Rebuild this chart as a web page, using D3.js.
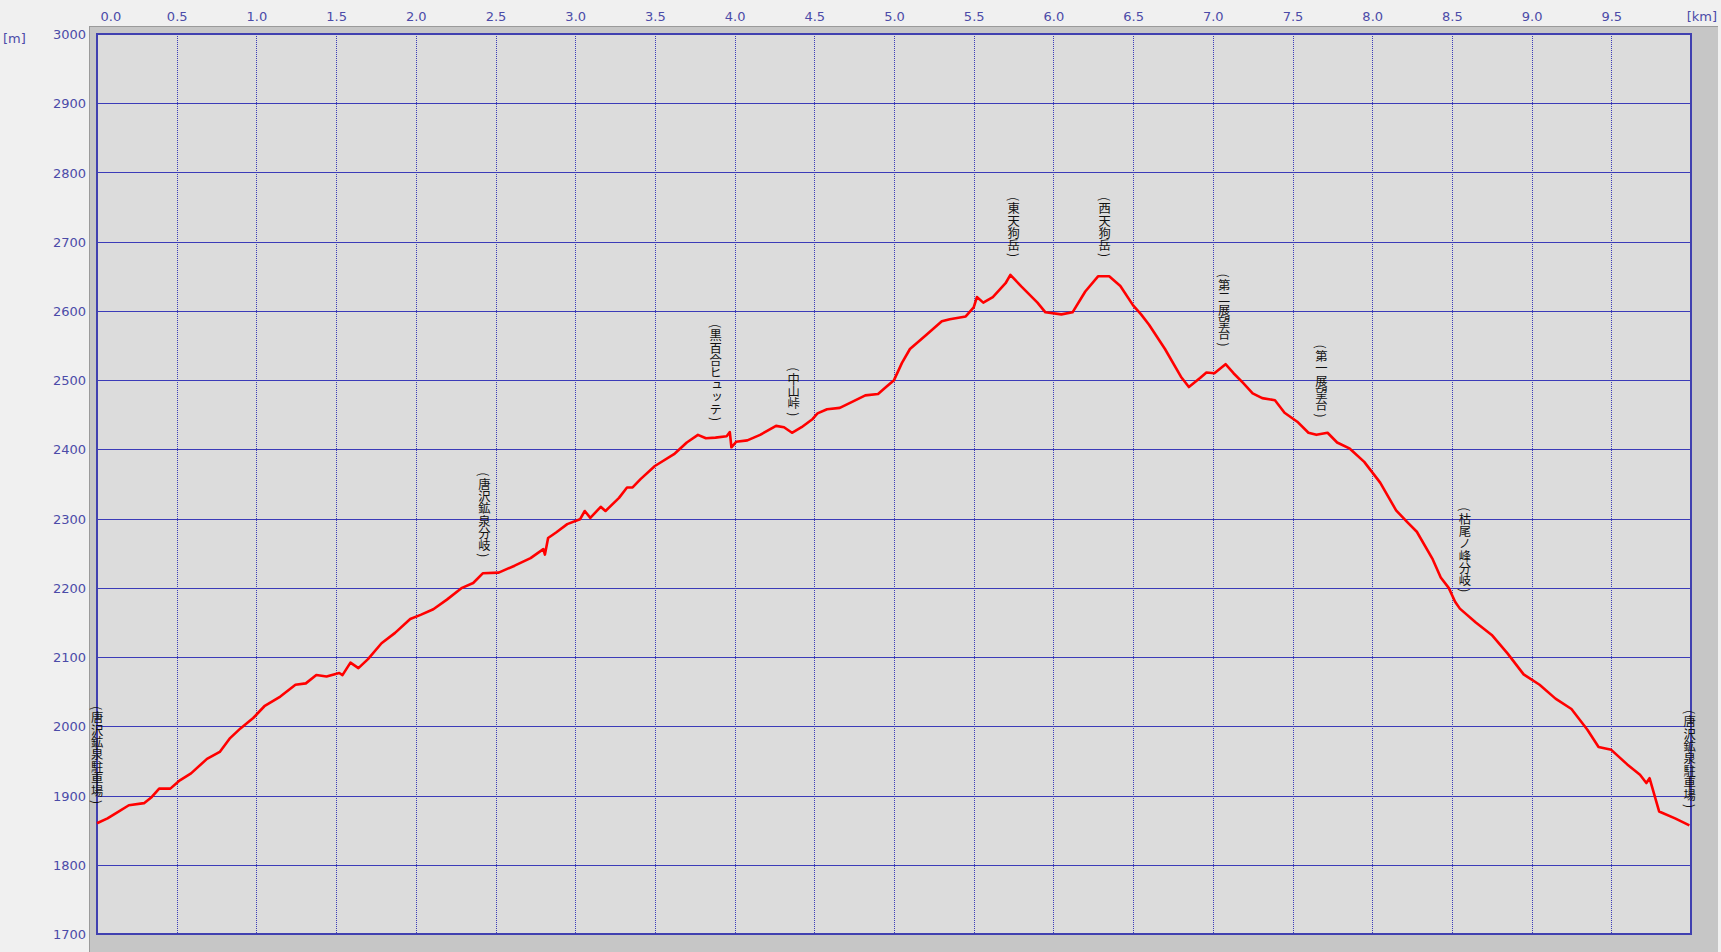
<!DOCTYPE html>
<html>
<head>
<meta charset="utf-8">
<script src="https://cdn.jsdelivr.net/npm/d3@7"></script>
<style>
  html, body { margin: 0; padding: 0; background: #f0f0f0; overflow: hidden; }
  #wrap { position: relative; width: 1721px; height: 952px; }
  svg { display: block; position: absolute; left: 0; top: 0; }
  .tick-label { font-family: "DejaVu Sans", Verdana, sans-serif; font-size: 13px; fill: #4b4ba8; }
  .poi { position: absolute; writing-mode: vertical-rl; font-family: "Noto Sans CJK JP", sans-serif;
         font-size: 12.3px; line-height: 1; color: #111; white-space: nowrap;
         transform: translate(-50%, -100%); }
  .poi .p { padding-top: 1.5px; padding-bottom: 1.5px; }
</style>
</head>
<body>
<div id="wrap">
<svg id="chart" width="1721" height="952"></svg>
<div id="labels"></div>
</div>
<script>
// ---- data ----
const distanceKm = [0.00,0.066,0.13,0.20,0.295,0.344,0.39,0.46,0.52,0.59,0.69,0.77,0.835,0.90,0.98,1.05,1.15,1.245,1.31,1.376,1.44,1.52,1.54,1.59,1.64,1.70,1.785,1.87,1.965,2.03,2.11,2.195,2.29,2.36,2.42,2.52,2.62,2.72,2.80,2.81,2.83,2.88,2.95,3.03,3.06,3.095,3.16,3.19,3.275,3.325,3.36,3.41,3.50,3.62,3.70,3.77,3.82,3.88,3.95,3.97,3.98,4.01,4.08,4.16,4.26,4.31,4.36,4.42,4.49,4.52,4.58,4.66,4.75,4.82,4.90,4.95,5.00,5.05,5.10,5.20,5.30,5.35,5.45,5.50,5.52,5.56,5.62,5.70,5.73,5.80,5.90,5.95,6.05,6.12,6.20,6.28,6.35,6.42,6.50,6.55,6.60,6.70,6.80,6.85,6.92,6.96,7.01,7.08,7.13,7.19,7.25,7.31,7.39,7.45,7.53,7.60,7.65,7.72,7.78,7.86,7.95,8.05,8.15,8.22,8.28,8.38,8.43,8.48,8.52,8.55,8.65,8.75,8.85,8.95,9.05,9.15,9.25,9.35,9.42,9.50,9.60,9.68,9.72,9.74,9.79,9.80,9.90,9.99];
const elevationM = [1860,1867,1876,1886,1889,1898,1910,1910,1922,1932,1953,1963,1983,1997,2012,2029,2043,2060,2062,2074,2072,2077,2074,2092,2084,2097,2120,2135,2155,2161,2169,2183,2200,2207,2221,2222,2232,2243,2256,2248,2272,2280,2292,2299,2311,2301,2317,2311,2330,2345,2345,2357,2376,2393,2410,2421,2416,2417,2419,2425,2403,2411,2413,2421,2434,2432,2424,2432,2444,2452,2458,2460,2470,2478,2480,2490,2500,2525,2545,2565,2585,2588,2592,2605,2620,2612,2620,2640,2652,2635,2612,2598,2595,2598,2628,2650,2650,2636,2608,2595,2580,2545,2505,2490,2503,2511,2510,2523,2510,2496,2481,2474,2471,2453,2440,2424,2421,2424,2410,2401,2382,2352,2312,2295,2281,2241,2215,2200,2180,2170,2150,2132,2105,2075,2060,2040,2025,1995,1970,1966,1945,1930,1918,1925,1885,1877,1867,1857];

const poiNames = ["(唐沢鉱泉駐車場)","(唐沢鉱泉分岐)","(黒百合ヒュッテ)","(中山峠)","(東天狗岳)","(西天狗岳)","(第二展望台)","(第一展望台)","(枯尾ノ峰分岐)","(唐沢鉱泉駐車場)"];
const poiKm = [0.0, 2.43, 3.88, 4.37, 5.75, 6.32, 7.07, 7.68, 8.58, 9.99];
const poiElev = [1863, 2218, 2415, 2423, 2652, 2652, 2523, 2421, 2168, 1857];

const xTicks = [0.0,0.5,1.0,1.5,2.0,2.5,3.0,3.5,4.0,4.5,5.0,5.5,6.0,6.5,7.0,7.5,8.0,8.5,9.0,9.5];
const yTicks = [1700,1800,1900,2000,2100,2200,2300,2400,2500,2600,2700,2800,2900,3000];

// ---- layout ----
const svg = d3.select("#chart");
const W = 1721, H = 952;
const plot = { left: 97, top: 34, right: 1691, bottom: 934 };

const x = d3.scaleLinear().domain([0, 10]).range([plot.left, plot.right]);
const y = d3.scaleLinear().domain([1700, 3000]).range([plot.bottom, plot.top]);

svg.append("rect").attr("width", W).attr("height", H).attr("fill", "#f0f0f0");

// outer panel
svg.append("rect").attr("x", 89).attr("y", 26).attr("width", 1629).attr("height", H - 26).attr("fill", "#c6c6c6");
svg.append("line").attr("x1", 89.5).attr("x2", 89.5).attr("y1", 26).attr("y2", H).attr("stroke", "#9a9a9a").attr("stroke-width", 1);
svg.append("line").attr("x1", 89).attr("x2", 1718).attr("y1", 26.5).attr("y2", 26.5).attr("stroke", "#9a9a9a").attr("stroke-width", 1);

// plot area
svg.append("rect").attr("x", plot.left).attr("y", plot.top)
  .attr("width", plot.right - plot.left).attr("height", plot.bottom - plot.top)
  .attr("fill", "#dcdcdc");

const gridColor = "#3b3bb8";
svg.append("g").selectAll("line").data(yTicks).join("line")
  .attr("x1", plot.left).attr("x2", plot.right)
  .attr("y1", d => Math.round(y(d)) + 0.5).attr("y2", d => Math.round(y(d)) + 0.5)
  .attr("stroke", gridColor).attr("stroke-width", 1);

svg.append("g").selectAll("line").data(xTicks).join("line")
  .attr("x1", d => Math.round(x(d)) + 0.5).attr("x2", d => Math.round(x(d)) + 0.5)
  .attr("y1", plot.top).attr("y2", plot.bottom)
  .attr("stroke", gridColor).attr("stroke-width", 1).attr("stroke-dasharray", "1,1");

svg.append("rect").attr("x", plot.left).attr("y", plot.top)
  .attr("width", plot.right - plot.left).attr("height", plot.bottom - plot.top)
  .attr("fill", "none").attr("stroke", "#4040b0").attr("stroke-width", 2);

// axes
const yAxis = d3.axisLeft(y).tickValues(yTicks).tickFormat(d3.format("d")).tickSize(0).tickPadding(0);
const gy = svg.append("g").attr("transform", `translate(86,0)`).call(yAxis);
gy.select(".domain").remove();
gy.selectAll("text").attr("class", "tick-label").attr("dy", "0.35em");

const xAxis = d3.axisTop(x).tickValues(xTicks).tickFormat(d3.format(".1f")).tickSize(0).tickPadding(0);
const gx = svg.append("g").attr("transform", `translate(0,21)`).call(xAxis);
gx.select(".domain").remove();
gx.selectAll("text").attr("class", "tick-label").attr("dy", "0")
  .attr("text-anchor", d => d === 0 ? "start" : "middle")
  .attr("x", d => d === 0 ? 3 : 0);

svg.append("text").attr("class", "tick-label").attr("x", 3).attr("y", 43).text("[m]");
svg.append("text").attr("class", "tick-label").attr("x", 1717).attr("y", 21).attr("text-anchor", "end").text("[km]");

// profile line
const pts = distanceKm.map((d, i) => [d, elevationM[i]]);
const line = d3.line().x(d => x(d[0])).y(d => y(d[1]));
svg.append("path").datum(pts).attr("d", line)
  .attr("fill", "none").attr("stroke", "#ff0000").attr("stroke-width", 2.6)
  .attr("stroke-linejoin", "round");

// POI labels: vertical text columns, positioned with the scales
const labels = d3.select("#labels").selectAll("div").data(poiNames).join("div")
  .attr("class", "poi")
  .style("left", (d, i) => x(poiKm[i]) + "px")
  .style("top", (d, i) => (y(poiElev[i]) - 16) + "px");
labels.each(function(name) {
  const el = d3.select(this);
  Array.from(name).forEach(c => {
    el.append("span").attr("class", (c === "(" || c === ")") ? "p" : null).text(c);
  });
});
</script>
</body>
</html>
